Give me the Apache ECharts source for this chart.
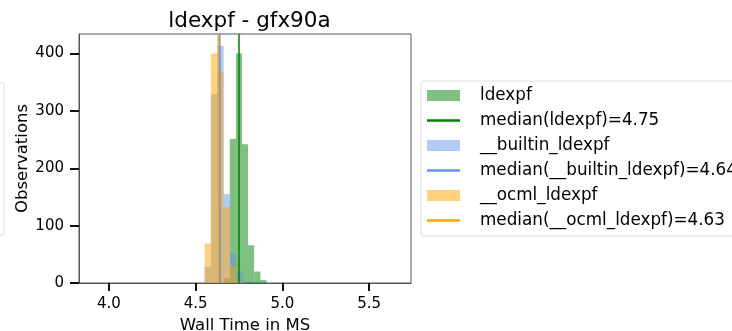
<!DOCTYPE html>
<html>
<head>
<meta charset="utf-8">
<script src="https://cdn.jsdelivr.net/npm/echarts@6/dist/echarts.min.js"></script>
<style>html,body{margin:0;padding:0;background:#fff;}#c{width:732px;height:331px;}</style>
</head>
<body>
<div id="c"></div>
<script>
// ---- data ----
const xTicks = [4.0, 4.5, 5.0, 5.5];
const yTicks = [0, 100, 200, 300, 400];

const ldexpfBinStarts = [4.662, 4.697, 4.732, 4.767, 4.802, 4.838, 4.873];
const ldexpfBinWidth = 0.0352;
const ldexpfCounts = [8, 251, 400, 242, 66, 20, 5];

const libBinStarts = [4.552, 4.588, 4.625, 4.661, 4.698, 4.734, 4.770];
const libBinWidth = 0.0364;
const builtinCounts = [28, 329, 413, 155, 52, 20, 3];
const ocmlCounts = [69, 400, 367, 132, 30, 3, 0];

const medianNames = ['ldexpf', '__builtin_ldexpf', '__ocml_ldexpf'];
const medianValues = [4.75, 4.64, 4.63];

const yTop = 434;
const xMin = 3.828, xMax = 5.741;
// ---------------------------------------

const FONT = 'DejaVu Sans';
const barColors = ['#008000', '#6495ED', '#FFA500'];
const swatchColors = ['#80c080', '#b1caf6', '#ffd280'];

function histData(starts, width, counts) {
  return starts.map((s, i) => [s, s + width, counts[i]]);
}
function histSeries(name, data, color) {
  return {
    name: name, type: 'custom',
    data: data,
    encode: { x: [0, 1], y: 2 },
    renderItem: function (params, api) {
      const p0 = api.coord([api.value(0), api.value(2)]);
      const p1 = api.coord([api.value(1), 0]);
      return {
        type: 'rect',
        shape: { x: p0[0], y: p0[1], width: p1[0] - p0[0], height: p1[1] - p0[1] },
        style: { fill: color, opacity: 0.5 }
      };
    },
    itemStyle: { color: color }
  };
}
function medianSeries(i) {
  return {
    name: 'median(' + medianNames[i] + ')=' + medianValues[i].toFixed(2),
    type: 'line', symbol: 'none', showSymbol: false,
    data: [[medianValues[i], 0], [medianValues[i], yTop]],
    lineStyle: { color: barColors[i], width: 1.5 },
    itemStyle: { color: barColors[i] },
    animation: false
  };
}

const series = [
  histSeries('ldexpf', histData(ldexpfBinStarts, ldexpfBinWidth, ldexpfCounts), barColors[0]),
  medianSeries(0),
  histSeries('__builtin_ldexpf', histData(libBinStarts, libBinWidth, builtinCounts), barColors[1]),
  medianSeries(1),
  histSeries('__ocml_ldexpf', histData(libBinStarts, libBinWidth, ocmlCounts), barColors[2]),
  medianSeries(2)
];

const legendData = series.map((s, i) => {
  if (s.type === 'custom') {
    return { name: s.name, icon: 'rect', itemStyle: { color: swatchColors[i / 2] } };
  }
  return { name: s.name, icon: 'path://M0,0 L20,0 L20,1.5 L0,1.5 Z' };
});

const chart = echarts.init(document.getElementById('c'), null, { renderer: 'canvas' });
chart.setOption({
  animation: false,
  textStyle: { fontFamily: FONT },
  title: {
    text: 'ldexpf - gfx90a',
    left: 244.5, top: 5, textAlign: 'center',
    textStyle: { fontFamily: FONT, fontSize: 21.5, fontWeight: 'normal', color: '#000' }
  },
  grid: {
    left: 79, right: 321, top: 34, bottom: 48,
    outerBoundsMode: 'none', containLabel: false,
    show: true, borderColor: '#555', borderWidth: 1, backgroundColor: 'transparent'
  },
  xAxis: {
    type: 'value', min: xMin, max: xMax,
    name: 'Wall Time in MS', nameLocation: 'middle', nameGap: 31,
    nameTextStyle: { fontFamily: FONT, fontSize: 16.5, color: '#000' },
    axisLine: { show: true, lineStyle: { color: '#555', width: 1 } },
    axisTick: { show: true, length: 8, customValues: xTicks, lineStyle: { color: '#111', width: 2 } },
    axisLabel: { customValues: xTicks, margin: 14, fontSize: 15, color: '#000', fontFamily: FONT,
      formatter: v => v.toFixed(1) },
    splitLine: { show: false }
  },
  yAxis: {
    type: 'value', min: 0, max: yTop,
    name: 'Observations', nameLocation: 'middle', nameGap: 47, nameRotate: 90,
    nameTextStyle: { fontFamily: FONT, fontSize: 16.5, color: '#000' },
    axisLine: { show: true, lineStyle: { color: '#555', width: 1 } },
    axisTick: { show: true, length: 9, customValues: yTicks, lineStyle: { color: '#111', width: 2 } },
    axisLabel: { customValues: yTicks, margin: 15, fontSize: 15, color: '#000', fontFamily: FONT },
    splitLine: { show: false }
  },
  legend: {
    orient: 'vertical', left: 421, top: 81,
    data: legendData,
    itemWidth: 33, itemHeight: 11, itemGap: 8,
    padding: [6, 10, 7, 6],
    backgroundColor: '#fff', borderColor: '#ddd', borderWidth: 1, borderRadius: 3,
    textStyle: { fontFamily: FONT, fontSize: 16.8, color: '#000', lineHeight: 17, padding: [0, 0, 0, 15] },
    selectedMode: false
  },
  graphic: [{
    type: 'rect', left: -10, top: 82,
    shape: { width: 13.5, height: 153, r: 3 },
    style: { fill: '#fff', stroke: '#ddd', lineWidth: 1 }
  }],
  series: series
});
</script>
</body>
</html>
